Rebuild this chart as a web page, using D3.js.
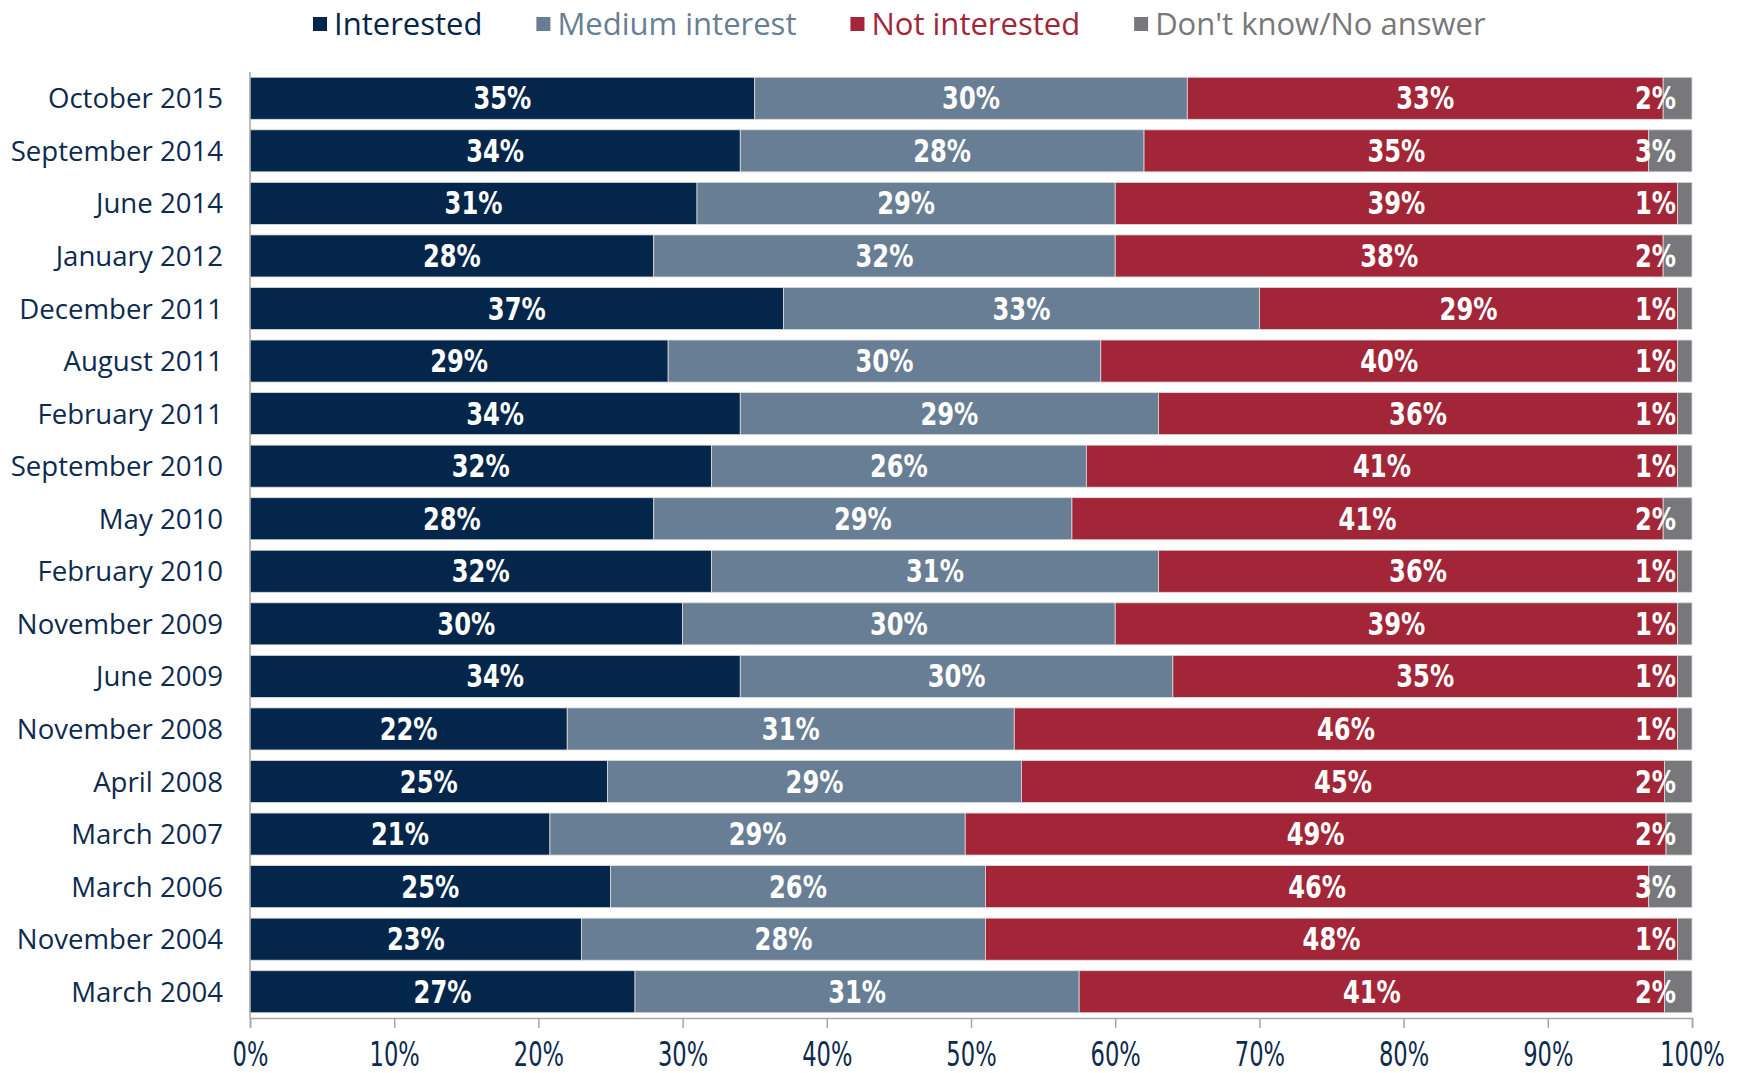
<!DOCTYPE html>
<meta charset="utf-8">
<body style="margin:0;background:#fff">
<svg id="chart" width="1746" height="1073"></svg>
</body>

<style>
    text { font-family: "Open Sans", sans-serif; }
    .val { font-family: "DejaVu Sans Condensed", sans-serif; font-weight: bold; font-size: 32px; fill: #fff; }
    .tick text { font-family: "DejaVu Sans Condensed", sans-serif; font-size: 34px; fill: #0d2b4e; }
</style>

<script src="https://d3js.org/d3.v7.min.js"></script>
<script>
    // survey waves, top to bottom
    const waves = ["October 2015", "September 2014", "June 2014", "January 2012", "December 2011",
        "August 2011", "February 2011", "September 2010", "May 2010", "February 2010",
        "November 2009", "June 2009", "November 2008", "April 2008", "March 2007",
        "March 2006", "November 2004", "March 2004"];

    const seriesNames = ["Interested", "Medium interest", "Not interested", "Don't know/No answer"];
    const colors = ["#03264a", "#687e94", "#a22638", "#77787b"];

    // shares in percent
    const interested = [35, 34, 31, 28, 37, 29, 34, 32, 28, 32, 30, 34, 22, 24.8, 20.8, 25, 23, 26.7];
    const medium     = [30, 28, 29, 32, 33, 30, 29, 26, 29, 31, 30, 30, 31, 28.7, 28.8, 26, 28, 30.8];
    const notInt     = [33, 35, 39, 38, 29, 40, 36, 41, 41, 36, 39, 35, 46, 44.6, 48.6, 46, 48, 40.6];
    const dontKnow   = [2, 3, 1, 2, 1, 1, 1, 1, 2, 1, 1, 1, 1, 1.9, 1.8, 3, 1, 1.9];

    const xTicks = [0, 10, 20, 30, 40, 50, 60, 70, 80, 90, 100];

    const keys = ["a", "b", "c", "d"];
    const rows = waves.map((w, i) => ({wave: w, a: interested[i], b: medium[i], c: notInt[i], d: dontKnow[i]}));

    const margin = {top: 72, left: 250, right: 54, bottom: 55},
        width = 1746 - margin.left - margin.right,
        height = 1073 - margin.top - margin.bottom;

    // the reference uses a narrow face; squeeze the condensed font to match
    const valSqueeze = 0.84,
        tickSqueeze = 0.74;

    const svg = d3.select("#chart");
    const g = svg.append("g").attr("transform", "translate(" + margin.left + "," + margin.top + ")");

    const x = d3.scaleLinear().domain([0, 100]).range([0, width]);
    const y = d3.scaleBand().domain(waves).range([0, height]).paddingInner(0.2).paddingOuter(0.1);

    const stacked = d3.stack().keys(keys)(rows);

    const layers = g.selectAll(".layer")
        .data(stacked)
      .enter().append("g")
        .attr("class", "layer")
        .attr("fill", (d, i) => colors[i]);

    layers.selectAll("rect")
        .data(d => d)
      .enter().append("rect")
        .attr("x", d => x(d[0]))
        .attr("y", d => y(d.data.wave))
        .attr("width", d => x(d[1]) - x(d[0]))
        .attr("height", y.bandwidth())
        .attr("stroke", "#dcdcdc")
        .attr("stroke-width", 0.8);

    // value labels
    layers.each(function(layer, li) {
        d3.select(this).selectAll("text")
            .data(layer)
          .enter().append("text")
            .attr("class", "val")
            .attr("text-anchor", li === 3 ? "end" : "middle")
            .attr("transform", d => {
                const cx = li === 3 ? x(100) - 16 : (x(d[0]) + x(d[1])) / 2;
                const cy = y(d.data.wave) + y.bandwidth() / 2 + 11;
                return "translate(" + cx + "," + cy + ") scale(" + valSqueeze + ",1)";
            })
            .text(d => Math.round(d[1] - d[0]) + "%");
    });

    // category labels
    g.selectAll(".cat")
        .data(waves)
      .enter().append("text")
        .attr("class", "cat")
        .attr("x", -27)
        .attr("y", d => y(d) + y.bandwidth() / 2 + 10)
        .attr("text-anchor", "end")
        .attr("font-size", 27.6)
        .attr("fill", "#0d2b4e")
        .text(d => d);

    // left axis line
    g.append("line")
        .attr("x1", 0).attr("x2", 0)
        .attr("y1", 0).attr("y2", height)
        .attr("stroke", "#a6a6a6").attr("stroke-width", 1.5);

    // bottom axis
    const xAxis = g.append("g")
        .attr("transform", "translate(0," + height + ")")
        .call(d3.axisBottom(x).tickValues(xTicks).tickFormat(d => d + "%").tickSize(10).tickPadding(14));
    xAxis.select(".domain").attr("stroke", "#a6a6a6").attr("stroke-width", 1.5);
    xAxis.selectAll(".tick line").attr("stroke", "#a6a6a6").attr("stroke-width", 1.5);
    xAxis.selectAll(".tick text").attr("transform", "scale(" + tickSqueeze + ",1)");

    // legend
    let lx = 313;
    seriesNames.forEach((name, i) => {
        svg.append("rect")
            .attr("x", lx).attr("y", 17)
            .attr("width", 14).attr("height", 14)
            .attr("fill", colors[i]);
        const t = svg.append("text")
            .attr("x", lx + 21).attr("y", 35)
            .attr("font-size", 31)
            .attr("fill", colors[i])
            .text(name);
        lx += 21 + t.node().getComputedTextLength() + 54;
    });
</script>
